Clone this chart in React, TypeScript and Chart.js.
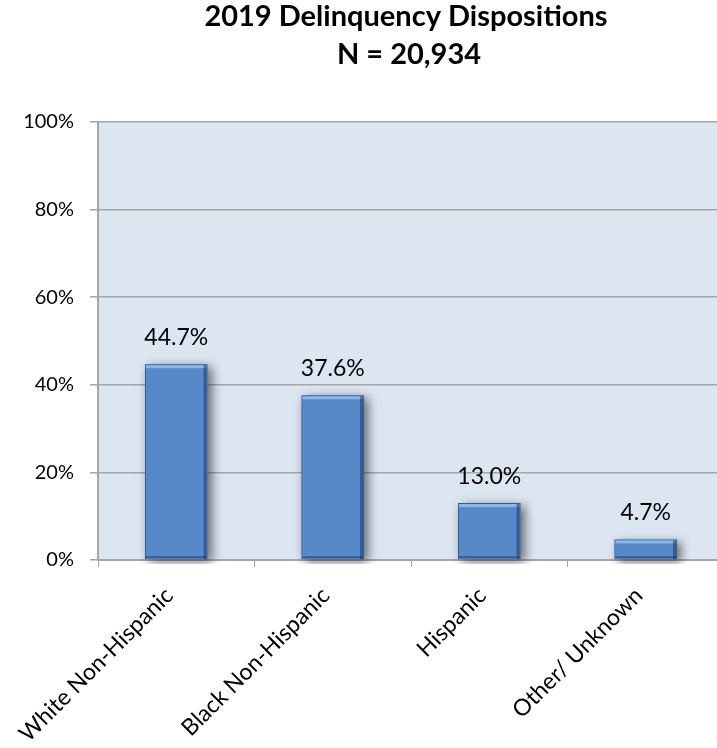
import React, { useEffect, useRef } from "react";
import { Chart, registerables } from "chart.js";

Chart.register(...registerables);

const TITLE_LINES = ["2019 Delinquency Dispositions", "N = 20,934"];
const CATEGORIES = ["White Non-Hispanic", "Black Non-Hispanic", "Hispanic", "Other/ Unknown"];
const VALUES = [44.7, 37.6, 13.0, 4.7];
const Y_TICKS = [0, 20, 40, 60, 80, 100];

const FONT = "Lato, 'Liberation Sans', sans-serif";
const BAR_COLOR = "#5689c9";

export default function App() {
  const ref = useRef<HTMLCanvasElement | null>(null);

  useEffect(() => {
    if (!ref.current) return;

    const bgPlugin = {
      id: "plotBg",
      beforeDraw(chart: any) {
        const { ctx, chartArea } = chart;
        ctx.save();
        ctx.fillStyle = "#dce6f1";
        ctx.fillRect(chartArea.left, chartArea.top, chartArea.right - chartArea.left, chartArea.bottom - chartArea.top);
        ctx.restore();
      },
    };

    const shadowPlugin = {
      id: "barShadow",
      beforeDatasetsDraw(chart: any) {
        const { ctx, chartArea } = chart;
        const meta = chart.getDatasetMeta(0);
        ctx.save();
        ctx.beginPath();
        ctx.rect(chartArea.left, chartArea.top, chartArea.right - chartArea.left, chartArea.bottom - chartArea.top + 4);
        ctx.clip();
        ctx.shadowColor = "rgba(0,0,0,0.55)";
        ctx.shadowBlur = 10;
        ctx.shadowOffsetX = 4;
        ctx.shadowOffsetY = 3;
        ctx.fillStyle = BAR_COLOR;
        meta.data.forEach((bar: any) => {
          const w = bar.width;
          ctx.fillRect(bar.x - w / 2, bar.y, w, bar.base - bar.y);
        });
        ctx.restore();
      },
      afterDatasetsDraw(chart: any) {
        const ctx = chart.ctx;
        const meta = chart.getDatasetMeta(0);
        meta.data.forEach((bar: any) => {
          const w = bar.width;
          const l = bar.x - w / 2;
          const r = bar.x + w / 2;
          ctx.save();
          ctx.fillStyle = "rgba(150,190,240,0.85)";
          ctx.fillRect(l + 1, bar.y + 1, w - 2, 3);
          ctx.fillStyle = "rgba(30,55,95,0.55)";
          ctx.fillRect(r - 4, bar.y + 1, 3, bar.base - bar.y - 1);
          ctx.fillRect(l + 1, bar.base - 3, w - 2, 2);
          ctx.restore();
        });
      },
    };

    const labelPlugin = {
      id: "valueLabels",
      afterDatasetsDraw(chart: any) {
        const { ctx } = chart;
        const meta = chart.getDatasetMeta(0);
        ctx.save();
        ctx.fillStyle = "#000";
        ctx.font = `23px ${FONT}`;
        ctx.textAlign = "center";
        ctx.textBaseline = "alphabetic";
        meta.data.forEach((bar: any, i: number) => {
          ctx.fillText(VALUES[i].toFixed(1) + "%", bar.x, bar.y - 19);
        });
        ctx.restore();
      },
    };

    const titlePlugin = {
      id: "customTitle",
      afterDraw(chart: any) {
        const { ctx } = chart;
        ctx.save();
        ctx.fillStyle = "#000";
        ctx.font = `bold 29px ${FONT}`;
        ctx.textAlign = "center";
        ctx.textBaseline = "alphabetic";
        ctx.fillText(TITLE_LINES[0], 406, 26);
        ctx.fillText(TITLE_LINES[1], 409, 64);
        ctx.restore();
      },
    };

    const chart = new Chart(ref.current, {
      type: "bar",
      data: {
        labels: CATEGORIES,
        datasets: [
          {
            data: VALUES,
            backgroundColor: BAR_COLOR,
            borderColor: "#3a5f8e",
            borderWidth: 1,
            barPercentage: 0.4,
            categoryPercentage: 1,
          },
        ],
      },
      options: {
        animation: false,
        responsive: false,
        maintainAspectRatio: false,
        layout: { padding: { top: 122, right: 2, left: 0, bottom: 0 } },
        plugins: {
          legend: { display: false },
          title: { display: false },
          tooltip: { enabled: false },
        },
        scales: {
          x: {
            offset: true,
            grid: {
              display: true,
              drawOnChartArea: false,
              drawTicks: true,
              tickLength: 7,
              color: "#a6a6a6",
              offset: true,
            },
            border: { display: true, color: "#a6a6a6", width: 2 },
            ticks: {
              color: "#000",
              font: { family: FONT, size: 23 },
              minRotation: 45,
              maxRotation: 45,
              autoSkip: false,
              padding: 15,
              labelOffset: -7,
            },
            afterFit(scale: any) {
              scale.height = 188;
            },
          },
          y: {
            min: 0,
            max: 100,
            afterBuildTicks(scale: any) {
              scale.ticks = Y_TICKS.map((v) => ({ value: v }));
            },
            grid: {
              color: "#a6a6a6",
              lineWidth: 1.5,
              tickLength: 8,
            },
            border: { display: true, color: "#a6a6a6", width: 2 },
            ticks: {
              color: "#000",
              font: { family: FONT, size: 20 },
              padding: 16,
              callback: (v: any) => v + "%",
            },
            afterFit(scale: any) {
              scale.width = 98;
            },
          },
        },
      },
      plugins: [bgPlugin, shadowPlugin, labelPlugin, titlePlugin],
    });

    return () => chart.destroy();
  }, []);

  return (
    <div style={{ position: "fixed", left: 0, top: 0, width: 717, height: 748, overflow: "hidden", background: "#fff" }}>
      <canvas ref={ref} width={726} height={748} style={{ display: "block" }} />
    </div>
  );
}
